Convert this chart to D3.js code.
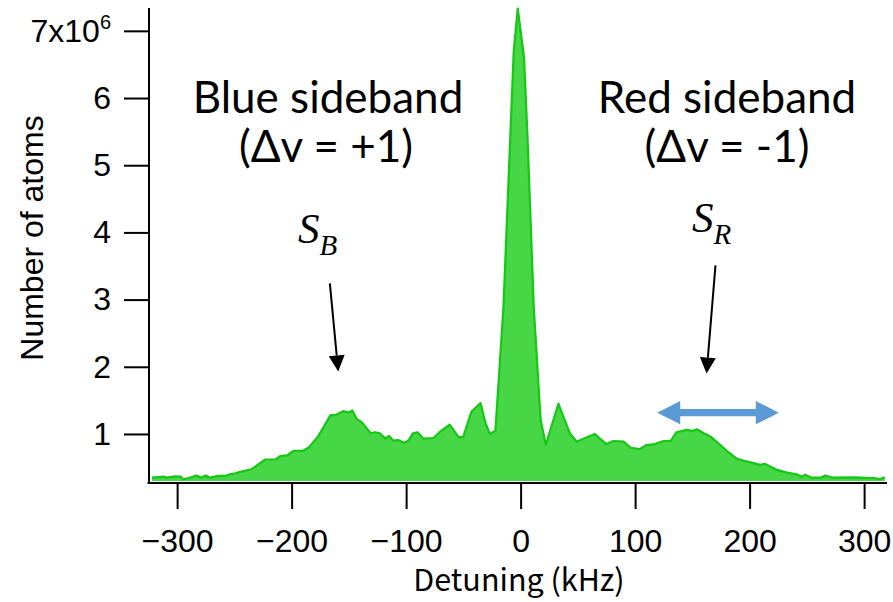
<!DOCTYPE html>
<html>
<head>
<meta charset="utf-8">
<script src="https://cdn.jsdelivr.net/npm/d3@7"></script>
<style>
  body { margin: 0; background: #fff; }
  svg { display: block; }
</style>
</head>
<body>
<svg id="chart" width="893" height="602"></svg>
<script>
// Spectrum: detuning (kHz) vs number of atoms (in units of 10^6)
const detuning = [
  -322, -312, -309, -302, -297, -294.5, -290, -283, -279, -275, -271, -265, -258, -254, -249, -245,
  -235, -230, -223, -214, -210, -204, -198, -190, -185, -177, -166, -162, -155, -150, -147, -143,
  -139, -131, -127, -123, -118, -115, -111, -107, -102, -98, -94, -90, -85, -76, -70, -62,
  -54, -50, -43, -35, -31, -27, -22, -15, -9, -6, -2.5, 3, 6, 11.5,
  17.5, 22, 33, 43, 49, 58, 65, 69, 75, 81, 90, 96, 104, 110,
  117, 125, 131, 136, 145, 150, 154, 160, 166, 171, 180, 189, 195, 200,
  209, 213.5, 224, 232.5, 241, 245.5, 248.5, 254, 262, 266, 272, 291, 308, 314, 318
];
const atoms = [
  0.35, 0.365, 0.35, 0.37, 0.365, 0.325, 0.345, 0.38, 0.35, 0.38, 0.35, 0.375, 0.375, 0.40, 0.415, 0.435,
  0.475, 0.535, 0.62, 0.62, 0.67, 0.68, 0.75, 0.75, 0.80, 0.96, 1.28, 1.28, 1.34, 1.32, 1.35, 1.22,
  1.18, 1.01, 1.025, 1.01, 0.93, 0.97, 0.90, 0.91, 0.87, 0.90, 1.01, 1.025, 0.93, 0.94, 1.04, 1.14,
  0.95, 0.96, 1.33, 1.46, 1.18, 1.00, 1.05, 2.88, 5.43, 6.70, 7.33, 6.60, 5.43, 2.88,
  1.21, 0.84, 1.45, 1.01, 0.885, 0.95, 1.00, 0.935, 0.85, 0.895, 0.885, 0.795, 0.775, 0.835,
  0.85, 0.895, 0.895, 1.025, 1.06, 1.045, 1.07, 1.01, 0.96, 0.885, 0.75, 0.63, 0.60, 0.58,
  0.54, 0.555, 0.465, 0.425, 0.40, 0.365, 0.395, 0.35, 0.35, 0.38, 0.35, 0.355, 0.345, 0.33, 0.355
];
const xTicks = [-300, -200, -100, 0, 100, 200, 300];
const yTicks = [1, 2, 3, 4, 5, 6, 7];
const xTitle = "Detuning (kHz)";
const yTitle = "Number of atoms";

const svg = d3.select("#chart");
const tickFont = "'Liberation Sans', Arial, sans-serif";
const noteFont = "Lato, 'Open Sans', sans-serif";

const x = d3.scaleLinear().domain([-325, 320]).range([148.5, 887]);
const y = d3.scaleLinear().domain([0.3, 7.34]).range([481, 8]);

const data = detuning.map((d, i) => ({ k: d, n: atoms[i] }));

// filled spectrum
svg.append("path")
  .datum(data)
  .attr("fill", "#46d646")
  .attr("d", d3.area().x(d => x(d.k)).y0(y(0.3)).y1(d => y(d.n)));

svg.append("path")
  .datum(data)
  .attr("fill", "none")
  .attr("stroke", "#14c814")
  .attr("stroke-width", 2.2)
  .attr("stroke-linejoin", "round")
  .attr("d", d3.line().x(d => x(d.k)).y(d => y(d.n)));

// axes
const axisY0 = 483;
const xAxis = svg.append("g")
  .attr("transform", `translate(0,${axisY0})`)
  .call(d3.axisBottom(x).tickValues(xTicks).tickSize(26).tickSizeOuter(0).tickPadding(20));
const yAxis = svg.append("g")
  .attr("transform", `translate(149,0)`)
  .call(d3.axisLeft(y).tickValues(yTicks).tickFormat(d3.format("d"))
    .tickSize(25).tickSizeOuter(0).tickPadding(13));

[xAxis, yAxis].forEach(g => {
  g.select(".domain").remove();
  g.selectAll(".tick line").attr("stroke", "#000").attr("stroke-width", 2);
  g.selectAll(".tick text").attr("fill", "#000")
    .style("font-family", tickFont).style("font-size", "32px");
});

svg.append("line")
  .attr("x1", x.range()[0] - 1).attr("x2", x.range()[1])
  .attr("y1", axisY0).attr("y2", axisY0)
  .attr("stroke", "#000").attr("stroke-width", 2);
svg.append("line")
  .attr("x1", 149).attr("x2", 149)
  .attr("y1", y.range()[1]).attr("y2", axisY0 + 1)
  .attr("stroke", "#000").attr("stroke-width", 2);

// top label carries the exponent
yAxis.selectAll(".tick text").filter(d => d === 7).each(function () {
  const t = d3.select(this).text("");
  t.append("tspan").text("7x10");
  t.append("tspan").attr("dy", -13).style("font-size", "20px").text("6");
});

// axis titles
svg.append("text")
  .attr("transform", "translate(43,238) rotate(-90)")
  .attr("text-anchor", "middle")
  .style("font-family", tickFont).style("font-size", "32px")
  .text(yTitle);
svg.append("text")
  .attr("x", 519).attr("y", 591)
  .attr("text-anchor", "middle")
  .style("font-family", "'Noto Sans CJK JP', sans-serif").style("font-size", "30.5px")
  .text(xTitle);

// sideband labels
const notes = [
  { t: "Blue sideband", cx: 328, by: 113 },
  { t: "(Δv = +1)", cx: 326, by: 162 },
  { t: "Red sideband", cx: 727, by: 113 },
  { t: "(Δv = -1)", cx: 727, by: 162 }
];
svg.selectAll("text.note").data(notes).enter().append("text")
  .attr("class", "note")
  .attr("x", d => d.cx).attr("y", d => d.by)
  .attr("text-anchor", "middle")
  .style("font-family", noteFont).style("font-size", "44px")
  .text(d => d.t);

// S_B, S_R symbols
const symbols = [
  { sub: "B", px: 298, by: 243 },
  { sub: "R", px: 692, by: 232 }
];
symbols.forEach(s => {
  const t = svg.append("text")
    .attr("x", s.px).attr("y", s.by)
    .style("font-family", "'Liberation Serif', 'DejaVu Serif', serif")
    .style("font-style", "italic");
  t.append("tspan").style("font-size", "43px").text("S");
  t.append("tspan").attr("dy", 12).style("font-size", "29px").text(s.sub);
});

// black pointer arrows (data coordinates)
const pointers = [
  { k0: -166.6, n0: 3.24, k1: -159.3, n1: 1.93 },
  { k0: 170.2, n0: 3.51, k1: 162.4, n1: 1.90 }
];
pointers.forEach(p => {
  const xa = x(p.k0), ya = y(p.n0), xb = x(p.k1), yb = y(p.n1);
  const ang = Math.atan2(yb - ya, xb - xa);
  const L = 16, W = 8;
  const bx = xb - L * Math.cos(ang), by = yb - L * Math.sin(ang);
  svg.append("line")
    .attr("x1", xa).attr("y1", ya).attr("x2", bx).attr("y2", by)
    .attr("stroke", "#000").attr("stroke-width", 2);
  const nx = -Math.sin(ang), ny = Math.cos(ang);
  svg.append("path")
    .attr("d", `M${xb},${yb}L${bx + nx * W},${by + ny * W}L${bx - nx * W},${by - ny * W}Z`)
    .attr("fill", "#000");
});

// blue double-headed arrow showing the sideband span
const spanK = [119.3, 225.5];
const spanN = 1.317;
{
  const xl = x(spanK[0]), xr = x(spanK[1]), yc = y(spanN);
  const head = 23, hw = 11.7, sw = 3.7;
  const pts = [
    [xl, yc], [xl + head, yc - hw], [xl + head, yc - sw], [xr - head, yc - sw],
    [xr - head, yc - hw], [xr, yc], [xr - head, yc + hw], [xr - head, yc + sw],
    [xl + head, yc + sw], [xl + head, yc + hw]
  ];
  svg.append("path")
    .attr("d", "M" + pts.map(p => p.join(",")).join("L") + "Z")
    .attr("fill", "#5b9bd5");
}
</script>
</body>
</html>
